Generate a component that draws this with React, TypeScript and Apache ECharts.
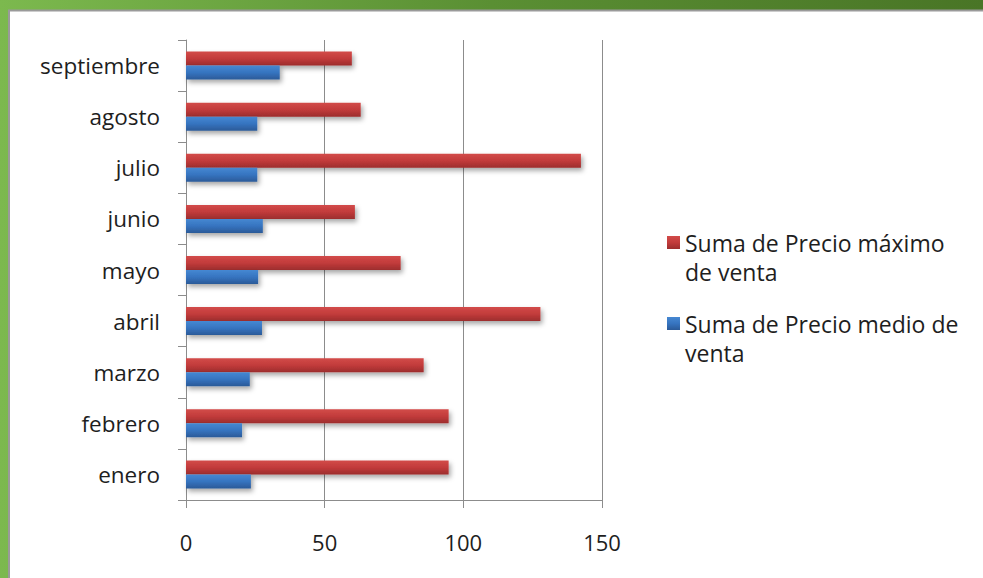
import React, { useEffect, useRef } from "react";
import * as echarts from "echarts";

const categories = ["enero", "febrero", "marzo", "abril", "mayo", "junio", "julio", "agosto", "septiembre"];
const precioMaximo = [94.7, 94.7, 85.7, 127.8, 77.4, 60.9, 142.4, 63, 59.8];
const precioMedio = [23.4, 20.2, 23, 27.4, 26, 27.7, 25.7, 25.7, 33.8];
const seriesNames = ["Suma de Precio máximo\nde venta", "Suma de Precio medio de\nventa"];
const xTicks = { min: 0, max: 150, interval: 50 };

const FONT = "'Open Sans', 'Noto Sans', sans-serif";
const TEXT_COLOR = "#1e1e1e";

export default function App() {
  const ref = useRef<HTMLDivElement>(null);
  useEffect(() => {
    const chart = echarts.init(ref.current!, null, { renderer: "svg" });
    const redGrad = new echarts.graphic.LinearGradient(0, 0, 0, 1, [
      { offset: 0, color: "#d24b49" },
      { offset: 0.5, color: "#c23b3b" },
      { offset: 1, color: "#9c2d2d" },
    ]);
    const blueGrad = new echarts.graphic.LinearGradient(0, 0, 0, 1, [
      { offset: 0, color: "#4688d2" },
      { offset: 0.5, color: "#3674c0" },
      { offset: 1, color: "#2b5a98" },
    ]);
    const shadow = {
      shadowBlur: 5,
      shadowOffsetX: 2,
      shadowOffsetY: 3,
      shadowColor: "rgba(0,0,0,0.35)",
    };
    const legendText = {
      fontFamily: FONT,
      fontSize: 23,
      lineHeight: 29,
      color: TEXT_COLOR,
    };
    const legendBase = {
      orient: "vertical",
      left: 667,
      padding: 0,
      itemWidth: 13,
      itemHeight: 13,
      icon: "rect",
      textStyle: legendText,
      formatter: (name: string) => "\n" + name,
    };
    chart.setOption({
      animation: false,
      graphic: [
        {
          type: "rect",
          z: -10,
          silent: true,
          shape: { x: 0, y: 0, width: 983, height: 578 },
          style: {
            fill: new echarts.graphic.LinearGradient(0, 0, 1, 0, [
              { offset: 0, color: "#7cb94e" },
              { offset: 0.5, color: "#5a8f33" },
              { offset: 1, color: "#497526" },
            ]),
          },
        },
        {
          type: "rect",
          z: -9,
          silent: true,
          shape: { x: 9, y: 10.5, width: 980, height: 572 },
          style: { fill: "#ffffff", stroke: "#9a9a9a", lineWidth: 2 },
        },
      ],
      grid: { left: 186, right: 381, top: 40, bottom: 78, containLabel: false },
      legend: [
        { ...legendBase, data: [seriesNames[0]], top: 199 },
        { ...legendBase, data: [seriesNames[1]], top: 280 },
      ],
      xAxis: {
        type: "value",
        min: xTicks.min,
        max: xTicks.max,
        interval: xTicks.interval,
        axisLine: { show: true, lineStyle: { color: "#8c8c8c", width: 1 } },
        axisTick: { show: true, length: 8, lineStyle: { color: "#8c8c8c" } },
        splitLine: { show: true, lineStyle: { color: "#8c8c8c", width: 1 } },
        axisLabel: { fontFamily: FONT, fontSize: 22, color: TEXT_COLOR, margin: 31 },
      },
      yAxis: {
        type: "category",
        data: categories,
        axisLine: { show: true, lineStyle: { color: "#8c8c8c", width: 1 } },
        axisTick: { show: true, length: 8, lineStyle: { color: "#8c8c8c" } },
        axisLabel: { fontFamily: FONT, fontSize: 22.5, color: TEXT_COLOR, margin: 26 },
      },
      series: [
        {
          name: seriesNames[0],
          type: "bar",
          data: precioMaximo,
          barWidth: 14,
          barGap: "0%",
          itemStyle: { color: redGrad, ...shadow },
        },
        {
          name: seriesNames[1],
          type: "bar",
          data: precioMedio,
          barWidth: 14,
          barGap: "0%",
          itemStyle: { color: blueGrad, ...shadow },
        },
      ],
    });
    return () => chart.dispose();
  }, []);
  return (
    <div
      ref={ref}
      style={{ position: "absolute", left: 0, top: 0, width: 983, height: 578 }}
    />
  );
}
